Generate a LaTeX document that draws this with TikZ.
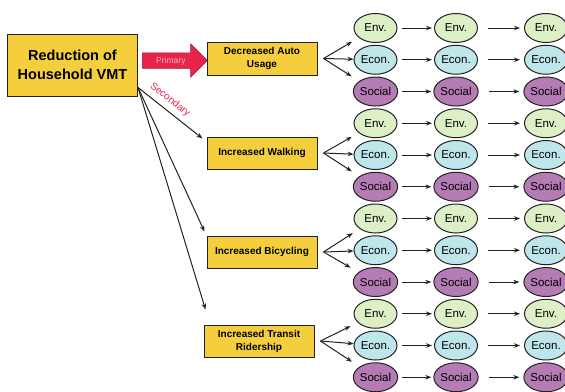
\documentclass[tikz,border=0pt]{standalone}
\usepackage{fontspec}
\setmainfont{Liberation Sans}
\usetikzlibrary{arrows.meta,shapes.geometric,shapes.arrows}
\definecolor{boxyellow}{HTML}{F4CE3C}
\definecolor{envgreen}{HTML}{DDEFC5}
\definecolor{econblue}{HTML}{BFE6EA}
\definecolor{socialpurple}{HTML}{B57BB5}
\definecolor{primred}{HTML}{E8244A}
\definecolor{primtext}{HTML}{F6B3C0}
\definecolor{linedark}{HTML}{222222}
\begin{document}
\begin{tikzpicture}[x=1pt,y=-1pt,
  ybox/.style={draw=linedark, line width=1pt, fill=boxyellow, align=center, inner sep=0pt},
  subbox/.style={ybox, minimum width=110pt, minimum height=32pt, font=\bfseries\fontsize{10}{13}\selectfont},
  oval/.style={ellipse, draw=linedark, line width=1pt, minimum width=43pt, minimum height=29pt, inner sep=0pt, font=\fontsize{11.5}{13}\selectfont},
  envst/.style={oval, fill=envgreen},
  econst/.style={oval, fill=econblue},
  socialst/.style={oval, fill=socialpurple},
  conn/.style={draw=linedark, line width=1pt, -{Stealth[length=6pt,width=4.5pt]}}
]
\useasboundingbox (0,0) rectangle (565,391);
\begin{scope}
\clip (0,0) rectangle (565,391);

\node[ybox, minimum width=130pt, minimum height=62pt, font=\bfseries\fontsize{14.5}{19}\selectfont] (main) at (72.5,65) {Reduction of\\Household VMT};

\node[subbox, minimum height=33pt] (dau) at (262,58.5) {Decreased Auto\\Usage};
\node[subbox] (walk) at (262,153) {Increased Walking};
\node[subbox] (bike) at (262,252) {Increased Bicycling};
\node[subbox] (transit) at (259,341) {Increased Transit\\Ridership};

\node[single arrow, fill=primred, draw=primred!70!black, line width=0.5pt, minimum height=65pt,
      single arrow head extend=9pt, inner xsep=2pt, inner ysep=4pt, text height=6pt, text depth=1pt,
      font=\fontsize{8.5}{9}\selectfont, text=primtext, anchor=tail] (prim) at (142,60.5) {Primary};

\coordinate (secstart) at ([yshift=9pt]main.south east);
\draw[conn] (secstart) -- ([xshift=-4pt,yshift=-2pt]walk.north west);
\draw[conn] (secstart) -- ([xshift=-2pt,yshift=4pt]bike.north west);
\draw[conn] (secstart) -- ([xshift=2pt,yshift=15pt]transit.north west);
\node[rotate=-38, text=primred, font=\fontsize{10}{11}\selectfont, inner sep=0pt] (seclbl) at (170,100) {Secondary};

\foreach \r in {0,...,11} {
  \pgfmathsetmacro{\yy}{28+31.75*\r}
  \pgfmathtruncatemacro{\k}{mod(\r,3)}
  \ifcase\k
    \node[envst] (e\r a) at (375.5,\yy) {Env.};
    \node[envst] (e\r b) at (456,\yy) {Env.};
    \node[envst] (e\r c) at (546,\yy) {Env.};
  \or
    \node[econst] (e\r a) at (375.5,\yy) {Econ.};
    \node[econst] (e\r b) at (456,\yy) {Econ.};
    \node[econst] (e\r c) at (546,\yy) {Econ.};
  \or
    \node[socialst] (e\r a) at (375.5,\yy) {Social};
    \node[socialst] (e\r b) at (456,\yy) {Social};
    \node[socialst] (e\r c) at (546,\yy) {Social};
  \fi
  \draw[conn, shorten <=4pt, shorten >=2pt] (e\r a) -- (e\r b);
  \draw[conn, shorten <=10pt, shorten >=4pt] (e\r b) -- (e\r c);
}

\foreach \src/\a/\b/\c in {dau/e0a/e1a/e2a, walk/e3a/e4a/e5a, bike/e6a/e7a/e8a, transit/e9a/e10a/e11a} {
  \coordinate (fan) at ([xshift=6pt]\src.east);
  \draw[conn, shorten >=8pt] (fan) -- (\a);
  \draw[conn] (fan) -- (\b);
  \draw[conn, shorten >=9pt] (fan) -- (\c);
}
\end{scope}
\end{tikzpicture}
\end{document}
